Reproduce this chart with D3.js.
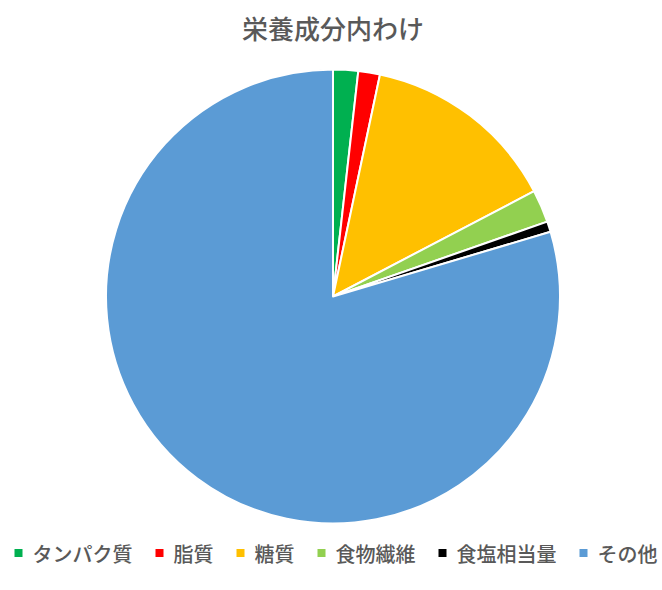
<!DOCTYPE html>
<html>
<head>
<meta charset="utf-8">
<script src="https://cdn.jsdelivr.net/npm/d3@7"></script>
<style>
  html, body { margin: 0; padding: 0; background: #fff; }
  svg { display: block; }
</style>
</head>
<body>
<div id="chart"></div>
<script>
// ─── data ────────────────────────────────────────────────────────
const labels = ["タンパク質", "脂質", "糖質", "食物繊維", "食塩相当量", "その他"];
const values = [1.78, 1.54, 14.0, 2.33, 0.75, 79.6];
const colors = ["#00B050", "#FF0000", "#FFC000", "#92D050", "#000000", "#5B9BD5"];
const title  = "栄養成分内わけ";

// ─── layout ──────────────────────────────────────────────────────
const width  = 662;
const height = 590;
const cx = 333, cy = 296.5, radius = 227;
const font = "'Noto Sans CJK JP', 'Noto Sans', sans-serif";
const textColor = "#595959";

const data = labels.map((label, i) => ({ label, value: values[i], color: colors[i] }));

const svg = d3.select("#chart")
    .append("svg")
    .attr("width", width)
    .attr("height", height);

// title
svg.append("text")
    .attr("x", cx)
    .attr("y", 39)
    .attr("text-anchor", "middle")
    .style("font-family", font)
    .style("font-size", "26px")
    .style("font-weight", "500")
    .style("fill", textColor)
    .text(title);

// ─── pie ─────────────────────────────────────────────────────────
const pie = d3.pie()
    .value(d => d.value)
    .sort(null);

const arc = d3.arc()
    .innerRadius(0)
    .outerRadius(radius);

svg.append("g")
    .attr("transform", `translate(${cx}, ${cy})`)
    .selectAll("path")
    .data(pie(data))
    .join("path")
    .attr("d", arc)
    .attr("fill", d => d.data.color)
    .attr("stroke", "#fff")
    .attr("stroke-width", 2)
    .attr("stroke-linejoin", "round");

// ─── legend ──────────────────────────────────────────────────────
const fontSize = 20;
const sq = 8, sqGap = 10, itemGap = 23;
const legendY = 553;

const legend = svg.append("g");
let x = 0;
data.forEach(d => {
    const g = legend.append("g").attr("transform", `translate(${x}, ${legendY})`);
    g.append("rect")
        .attr("x", 0)
        .attr("y", -sq / 2)
        .attr("width", sq)
        .attr("height", sq)
        .attr("fill", d.color);
    const t = g.append("text")
        .attr("x", sq + sqGap)
        .attr("y", 0)
        .attr("dominant-baseline", "central")
        .style("font-family", font)
        .style("font-size", fontSize + "px")
        .style("font-weight", "500")
        .style("fill", textColor)
        .text(d.label);
    x += sq + sqGap + t.node().getComputedTextLength() + itemGap;
});
const total = x - itemGap;
legend.attr("transform", `translate(${(width - total) / 2 + 5}, 0)`);
</script>
</body>
</html>
